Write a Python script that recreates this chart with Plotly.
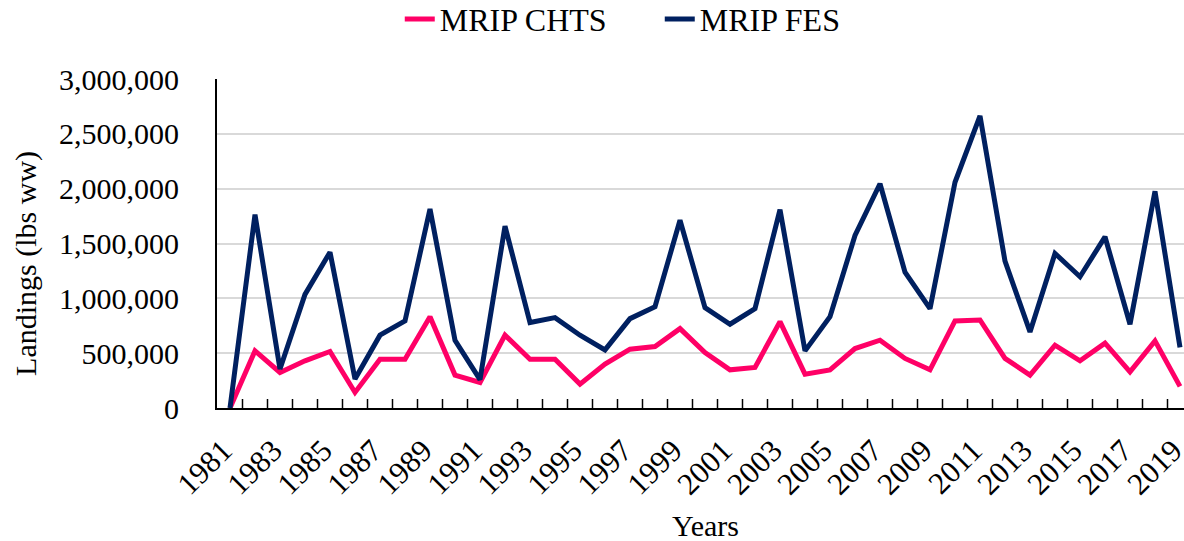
import plotly.graph_objects as go

years = list(range(1981, 2020))
chts = [0, 521000, 324000, 430000, 515000, 142000, 445000, 445000, 833000, 300000,
        233000, 664000, 445000, 445000, 218000, 400000, 536000, 561000, 724000, 506000,
        348000, 370000, 788000, 309000, 348000, 542000, 618000, 452000, 348000, 794000,
        803000, 452000, 300000, 573000, 430000, 591000, 330000, 612000, 197000]
fes = [0, 1764000, 355000, 1036000, 1421000, 264000, 664000, 794000, 1815000, 618000,
       258000, 1658000, 779000, 824000, 664000, 530000, 815000, 924000, 1712000, 915000,
       764000, 906000, 1809000, 521000, 833000, 1573000, 2045000, 1239000, 906000, 2058000,
       2664000, 1339000, 694000, 1409000, 1197000, 1561000, 764000, 1976000, 552000]
label_years = list(range(1981, 2020, 2))
y_ticks = [0, 500000, 1000000, 1500000, 2000000, 2500000, 3000000]

# category boundaries (where the reference draws its x tick marks)
boundaries = [y + 0.5 for y in years[:-1]]
TICK_H = 82000          # inside tick length expressed in y units (~9 px)
LABEL_NUDGE = 0.28      # slanted labels end slightly left of the category centre

tick_x, tick_y = [], []
for b in boundaries:
    tick_x += [b, b, None]
    tick_y += [y_ticks[0], TICK_H, None]

FONT = "Liberation Serif, Times New Roman, serif"

fig = go.Figure()
fig.add_trace(go.Scatter(x=tick_x, y=tick_y, mode="lines",
                         line=dict(color="black", width=1.5),
                         showlegend=False, hoverinfo="skip", connectgaps=False))
fig.add_trace(go.Scatter(x=years, y=chts, mode="lines", name="MRIP CHTS",
                         line=dict(color="#FF0066", width=5)))
fig.add_trace(go.Scatter(x=years, y=fes, mode="lines", name="MRIP FES",
                         line=dict(color="#002060", width=5)))

XRANGE = [1980.48, 2019.16]

fig.update_layout(
    width=1184, height=541,
    margin=dict(l=217, r=0, t=79, b=133, autoexpand=False),
    paper_bgcolor="white", plot_bgcolor="white",
    font=dict(family=FONT, size=30, color="black"),
    showlegend=True,
    legend=dict(orientation="h", x=0.189, xanchor="left", y=1.182, yanchor="middle",
                font=dict(family=FONT, size=32, color="black"),
                entrywidth=215, entrywidthmode="pixels",
                bgcolor="rgba(0,0,0,0)"),
    xaxis=dict(
        range=XRANGE, automargin=False,
        tickmode="array", tickvals=[y - LABEL_NUDGE for y in label_years],
        ticktext=[str(y) for y in label_years],
        tickangle=-45, ticks="",
        ticklabelstandoff=10, ticklabeloverflow="allow",
        tickfont=dict(family=FONT, size=31, color="black"),
        showgrid=False, zeroline=False,
        showline=True, linecolor="black", linewidth=2,
    ),
    yaxis=dict(
        range=[0, 3000000], automargin=False,
        tickmode="array", tickvals=y_ticks, tickformat=",d",
        ticks="", ticklabelstandoff=30,
        tickfont=dict(family=FONT, size=30, color="black"),
        showgrid=True, gridcolor="#D9D9D9", gridwidth=2,
        zeroline=False,
        showline=True, linecolor="black", linewidth=2,
    ),
    annotations=[
        dict(text="Years", xref="paper", yref="paper", x=0.5047, y=-0.356,
             xanchor="center", yanchor="middle", showarrow=False,
             font=dict(family=FONT, size=30, color="black")),
        dict(text="Landings (lbs ww)", xref="paper", yref="paper", x=-0.1975, y=0.438,
             xanchor="center", yanchor="middle", textangle=-90, showarrow=False,
             font=dict(family=FONT, size=30, color="black")),
    ],
)

fig.write_html("out.html", config={"displayModeBar": False},
               post_script="document.body.style.margin='0';document.body.style.overflow='hidden';")
